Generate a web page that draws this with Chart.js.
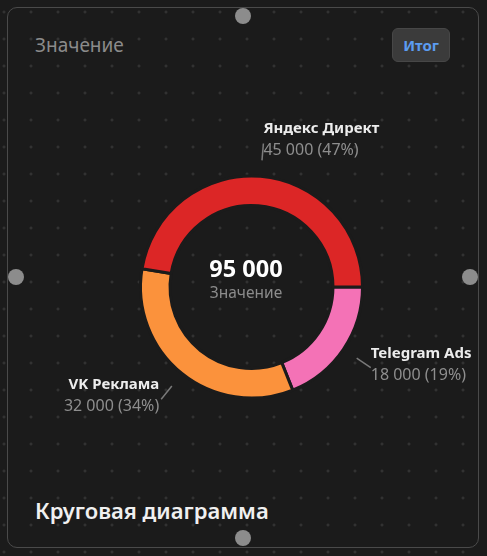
<html>
<head>
    <script src="https://cdn.jsdelivr.net/npm/chart.js"></script>
    <title></title>
    <style>
        body {
            margin: 0;
            width: 487px;
            height: 556px;
            overflow: hidden;
            background-color: #1b1b1b;
            background-image: radial-gradient(circle, #3a3a3a 1px, transparent 1.3px);
            background-size: 27px 27px;
            background-position: -9.5px -1.5px;
            font-family: "Noto Sans", sans-serif;
            position: relative;
        }
        #card {
            position: absolute;
            left: 7px; top: 7px;
            width: 470px; height: 539px;
            border: 1px solid #4a4a4a;
            border-radius: 10px;
        }
        .handle {
            position: absolute;
            width: 16px; height: 16px;
            border-radius: 50%;
            background: #8c8c8c;
            z-index: 5;
        }
        #title {
            position: absolute;
            left: 35px; top: 32px;
            font-size: 19px;
            color: #8b8b8b;
        }
        #btn {
            position: absolute;
            left: 392px; top: 28px;
            width: 58px; height: 34px;
            box-sizing: border-box;
            background: #3b3b3b;
            border: 1px solid #474747;
            border-radius: 6px;
            color: #5b9cf0;
            font-weight: bold;
            font-size: 15px;
            line-height: 32px;
            text-align: center;
        }
        #footer {
            position: absolute;
            left: 35px; top: 495px;
            font-size: 22px;
            font-weight: 600;
            color: #f0f0f0;
        }
        #wrap {
            position: absolute;
            left: 0; top: 0;
            width: 487px; height: 556px;
        }
    </style>
</head>
<body>
    <div id="card"></div>
    <div class="handle" style="left:235px; top:8px;"></div>
    <div class="handle" style="left:235px; top:530px;"></div>
    <div class="handle" style="left:8px; top:269px;"></div>
    <div class="handle" style="left:462px; top:269px;"></div>
    <div id="title">Значение</div>
    <div id="btn">Итог</div>
    <div id="footer">Круговая диаграмма</div>

    <div id="wrap">
        <canvas id="c1"></canvas>
    </div>

    <script>
        "use strict";
        // data
        const labels = ["Telegram Ads", "VK Реклама", "Яндекс Директ"];
        const values = [18000, 32000, 45000];
        const centerLabel = "Значение";

        const colors = ["#f472b6", "#fb923c", "#dc2626"];
        const bg = "#1b1b1b";

        function fmt(n) {
            return String(n).replace(/\B(?=(\d{3})+(?!\d))/g, " ");
        }

        let total = values.reduce((a, b) => a + b, 0);

        // labels with leader lines
        let sliceLabels = {
            id: "sliceLabels",
            afterDatasetsDraw(chart) {
                let ctx = chart.ctx;
                let meta = chart.getDatasetMeta(0);
                meta.data.forEach((arc, i) => {
                    let p = arc.getProps(["x", "y", "startAngle", "endAngle", "outerRadius"], true);
                    let a = (p.startAngle + p.endAngle) / 2;
                    let cs = Math.cos(a), sn = Math.sin(a);
                    let x1 = p.x + cs * (p.outerRadius + 16);
                    let y1 = p.y + sn * (p.outerRadius + 16);
                    let x2 = p.x + cs * (p.outerRadius + 33);
                    let y2 = p.y + sn * (p.outerRadius + 33);

                    ctx.save();
                    ctx.strokeStyle = "#7a7a7a";
                    ctx.lineWidth = 1.5;
                    ctx.beginPath();
                    ctx.moveTo(x1, y1);
                    ctx.lineTo(x2, y2);
                    ctx.stroke();

                    let right = cs >= 0;
                    ctx.textAlign = right ? "left" : "right";
                    let tx = right ? x2 : x2 - 2;
                    ctx.textBaseline = "alphabetic";
                    ctx.fillStyle = "#ececec";
                    ctx.font = "bold 15px 'Noto Sans'";
                    ctx.fillText(labels[i], tx, y2 - 10);
                    ctx.fillStyle = "#8e8e8e";
                    ctx.font = "16px 'Noto Sans'";
                    let pct = Math.round(values[i] / total * 100);
                    ctx.fillText(fmt(values[i]) + " (" + pct + "%)", tx, y2 + 12);
                    ctx.restore();
                });
            },
            afterDraw(chart) {
                let ctx = chart.ctx;
                let arc = chart.getDatasetMeta(0).data[0];
                let cx = arc.x - 5.5;
                let cy = arc.y;
                ctx.save();
                ctx.textAlign = "center";
                ctx.textBaseline = "alphabetic";
                ctx.fillStyle = "#ffffff";
                ctx.font = "bold 23.5px 'Noto Sans'";
                ctx.fillText(fmt(total), cx, cy - 10);
                ctx.fillStyle = "#8b8b8b";
                ctx.font = "15.5px 'Noto Sans'";
                ctx.fillText(centerLabel, cx, cy + 11);
                ctx.restore();
            }
        };

        let c1 = document.querySelector("#c1");
        let chart1 = new Chart(c1, {
            type: "doughnut",
            data: {
                labels: labels,
                datasets: [
                    {
                        data: values,
                        backgroundColor: colors,
                        borderColor: bg,
                        borderWidth: 3,
                        hoverOffset: 0
                    }]
            },
            options: {
                responsive: true,
                maintainAspectRatio: false,
                animation: false,
                rotation: 90,
                cutout: "73.4%",
                layout: { padding: { left: 139, right: 123, top: 174.5, bottom: 156.5 } },
                plugins: {
                    legend: { display: false },
                    tooltip: { enabled: false }
                }
            },
            plugins: [sliceLabels]
        });
    </script>
</body>
</html>
